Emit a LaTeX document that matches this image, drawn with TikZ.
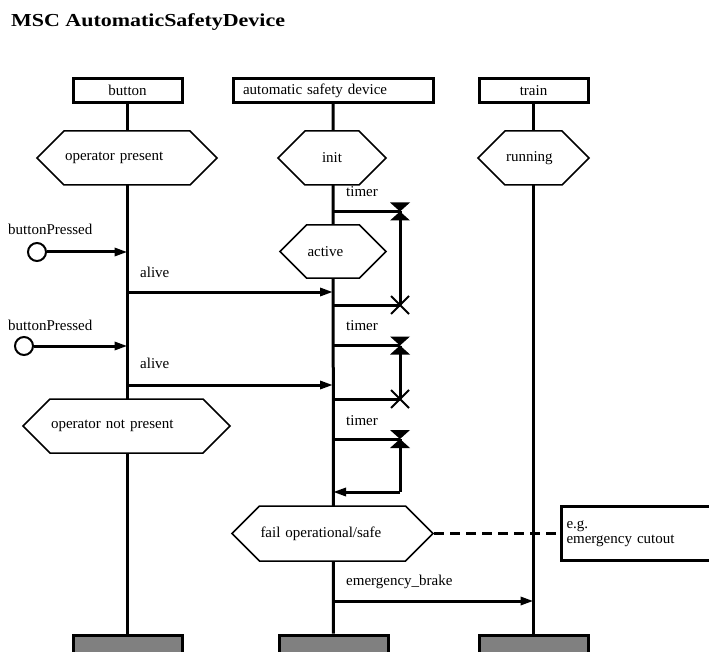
\documentclass[tikz,border=0pt]{standalone}
\usepackage{fontspec}
\setmainfont{Liberation Serif}
\newfontfamily\titlefont{Liberation Serif}[FakeStretch=1.2]
\usetikzlibrary{arrows.meta, positioning, shapes.symbols}

\begin{document}
\begin{tikzpicture}[x=1pt, y=-1pt,
  font=\fontsize{15}{15}\selectfont,
  head/.style={draw, line width=3pt, minimum width=109pt, minimum height=24pt, inner sep=0pt},
  tail/.style={draw, line width=3pt, fill=gray, minimum width=109pt, minimum height=40pt, inner sep=0pt},
  lifeline/.style={line width=3pt},
  cond/.style={signal, signal to=east and west, draw, fill=white, line width=1.5pt,
    minimum height=54pt, inner xsep=1pt, inner ysep=0pt, align=left},
  msg/.style={line width=3pt, -{Triangle[length=13pt, width=8pt]}},
  plain/.style={line width=3pt},
  lbl/.style={anchor=base west, inner sep=0pt},
  env/.style={circle, draw, line width=2pt, minimum size=18pt, inner sep=0pt}]

  \useasboundingbox (0,0) rectangle (709,652);
  \clip (0,0) rectangle (709,652);

  % Title
  \node[lbl, font=\titlefont\bfseries\fontsize{18.3}{20}\selectfont] (title) at (11,27) {MSC AutomaticSafetyDevice};

  % Instance heads
  \node[head] (btn) at (127.5,90.5) {button};
  \node[head, minimum width=200pt, text width=180pt, align=left] (asd) at (333,90.5) {automatic safety device};
  \node[head] (trn) at (533.5,90.5) {train};

  % Instance ends
  \node[tail] (btnEnd) at (127.5,655) {};
  \node[tail] (asdEnd) at (333.5,655) {};
  \node[tail] (trnEnd) at (533.5,655) {};

  % Lifelines
  \draw[lifeline] (btn) -- (btnEnd);
  \draw[lifeline] (asd) -- (asdEnd);
  \draw[lifeline] (trn) -- (trnEnd);

  % Conditions
  \node[cond, text width=124pt] (opPresent) at (127,158) {operator present};
  \node[cond, text width=52pt, align=center] (init) at (332,158) {init};
  \node[cond, text width=55pt] (running) at (533.5,158) {running};
  \node[cond, text width=51pt, minimum height=53pt] (active) at (333,251.5) {active};
  \node[cond, text width=151pt] (opNotPresent) at (126.5,426) {operator not present};
  \node[cond, text width=144pt, minimum height=55pt] (fail) at (332.5,533.5) {fail operational/safe};

  % Button presses from the environment
  \node[env] (bp1) at (37,252) {};
  \node[lbl] (bp1Lbl) at (8,235) {buttonPressed};
  \draw[msg] (bp1) -- (bp1 -| btn);
  \node[env] (bp2) at (24,346) {};
  \node[lbl] (bp2Lbl) at (8,330) {buttonPressed};
  \draw[msg] (bp2) -- (bp2 -| btn);

  % alive messages
  \coordinate (alive1) at (127.5,292);
  \node[lbl] (alive1Lbl) at (140,277) {alive};
  \draw[msg] (alive1) -- (alive1 -| asd);
  \coordinate (alive2) at (127.5,385);
  \node[lbl] (alive2Lbl) at (140,368) {alive};
  \draw[msg] (alive2) -- (alive2 -| asd);

  % Timers: set, reset and timeout
  \foreach \n/\y/\ly in {t1/211.5/196.5, t2/345.5/330, t3/439/425} {
    \coordinate (\n) at (400,\y);
    \node[lbl] (\n Lbl) at (346,\ly) {timer};
    \draw[plain] (\n -| asd) -- (\n);
  }
  \coordinate (x1) at (400,305);
  \coordinate (x2) at (400,399);
  \coordinate (out3) at (400,492);
  \draw[plain] (t1) -- (x1) (x1 -| asd) -- (x1);
  \draw[plain] (t2) -- (x2) (x2 -| asd) -- (x2);
  \draw[plain] (t3) -- (out3);
  \draw[msg] (out3) -- (out3 -| asd);
  \foreach \n in {t1, t2, t3} {
    \fill (\n) ++(-10,-9) -- ++(20,0) -- ++(-20,18) -- ++(20,0) -- cycle;
  }
  \foreach \n in {x1, x2} {
    \draw[line width=2pt] (\n) ++(-9,-9) -- ++(18,18) (\n) ++(-9,9) -- ++(18,-18);
  }

  % emergency_brake
  \coordinate (brake) at (333,601);
  \node[lbl] (brakeLbl) at (346,585) {emergency\_brake};
  \draw[msg] (brake) -- (brake -| trn);

  % Comment
  \node[draw, line width=3pt, anchor=west, minimum width=160pt, minimum height=54pt,
    text width=150pt, inner xsep=5pt, align=left] (note) at (560,533.5) {e.g.\\emergency cutout};
  \draw[line width=2.5pt, dash pattern=on 10pt off 6pt] (fail.east) -- (note.west);
\end{tikzpicture}
\end{document}
